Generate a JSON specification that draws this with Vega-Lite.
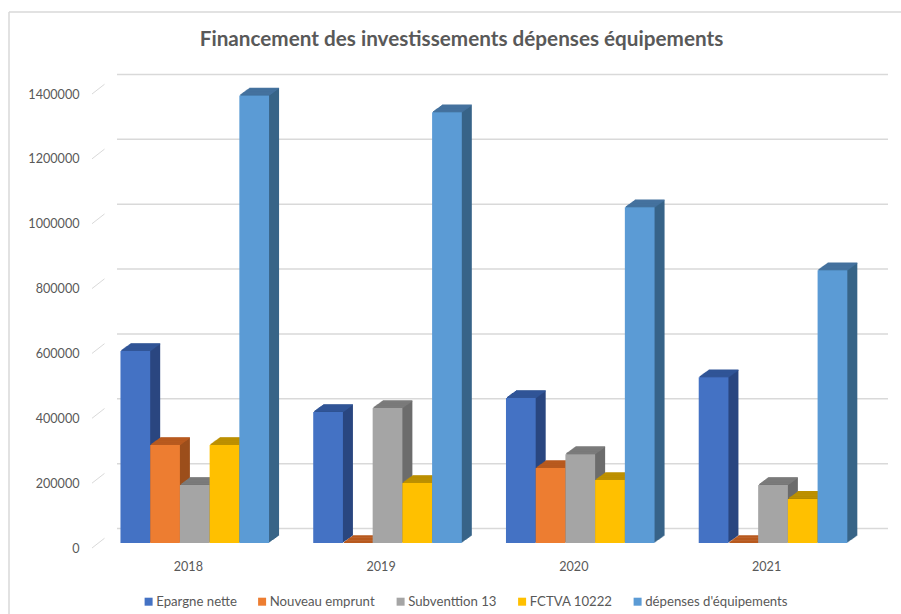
{"$schema":"https://vega.github.io/schema/vega-lite/v6.json","width":771,"height":454,"autosize":"none","padding":{"left":92,"top":94,"right":38,"bottom":66},"background":"white","title":{"text":"Financement des investissements dépenses équipements","font":"Lato","fontSize":20.7,"fontWeight":"bold","color":"#595959","offset":-39,"dx":-16,"anchor":"middle"},"config":{"view":{"stroke":null}},"datasets":{"bars":[{"a":"2018","s":"Epargne nette","v":592000},{"a":"2018","s":"Nouveau emprunt","v":302000},{"a":"2018","s":"Subventtion 13","v":179000},{"a":"2018","s":"FCTVA 10222","v":302000},{"a":"2018","s":"dépenses d'équipements","v":1380000},{"a":"2019","s":"Epargne nette","v":404000},{"a":"2019","s":"Nouveau emprunt","v":0},{"a":"2019","s":"Subventtion 13","v":416000},{"a":"2019","s":"FCTVA 10222","v":185000},{"a":"2019","s":"dépenses d'équipements","v":1328000},{"a":"2020","s":"Epargne nette","v":447000},{"a":"2020","s":"Nouveau emprunt","v":231000},{"a":"2020","s":"Subventtion 13","v":274000},{"a":"2020","s":"FCTVA 10222","v":194000},{"a":"2020","s":"dépenses d'équipements","v":1035000},{"a":"2021","s":"Epargne nette","v":511000},{"a":"2021","s":"Nouveau emprunt","v":0},{"a":"2021","s":"Subventtion 13","v":179000},{"a":"2021","s":"FCTVA 10222","v":136000},{"a":"2021","s":"dépenses d'équipements","v":841000}],"grid":[{"v":0},{"v":200000},{"v":400000},{"v":600000},{"v":800000},{"v":1000000},{"v":1200000},{"v":1400000}]},"resolve":{"scale":{"x":"independent"},"axis":{"x":"independent"}},"layer":[{"data":{"values":[{}]},"mark":{"type":"rule","color":"#d9d9d9","strokeWidth":1.5,"xOffset":-83,"x2Offset":38,"yOffset":-82},"encoding":{"x":{"datum":0,"scale":{"domain":[0,1]},"axis":null},"x2":{"datum":1},"y":{"datum":1400000,"scale":{"domain":[0,1400000]}}}},{"data":{"values":[{}]},"mark":{"type":"rule","color":"#d9d9d9","strokeWidth":1.5,"xOffset":-83,"yOffset":-82,"y2Offset":66},"encoding":{"x":{"datum":0,"scale":{"domain":[0,1]},"axis":null},"y":{"datum":1400000},"y2":{"datum":0}}},{"data":{"name":"grid"},"mark":{"type":"point","shape":"M0 0L1 -0.78","size":625,"stroke":"#d9d9d9","strokeWidth":1,"fill":null,"opacity":1},"encoding":{"x":{"datum":0,"scale":{"domain":[0,1]},"axis":null},"y":{"field":"v","type":"quantitative","axis":{"values":[0,200000,400000,600000,800000,1000000,1200000,1400000],"format":"d","title":null,"domain":false,"ticks":false,"grid":false,"labelPadding":13,"labelFont":"Lato","labelFontSize":12.6,"labelColor":"#595959"}}}},{"data":{"name":"grid"},"mark":{"type":"rule","color":"#d9d9d9","strokeWidth":1.5,"xOffset":25,"x2Offset":25,"yOffset":-19.5},"encoding":{"x":{"datum":0,"scale":{"domain":[0,1]},"axis":null},"x2":{"datum":1},"y":{"field":"v","type":"quantitative"}}},{"data":{"name":"bars"},"resolve":{"scale":{"xOffset":"independent"}},"encoding":{"x":{"field":"a","type":"nominal","scale":{"paddingInner":0.229,"paddingOuter":0.1145},"axis":{"title":null,"labelAngle":0,"domain":false,"ticks":false,"labelPadding":12,"labelFont":"Lato","labelFontSize":12.6,"labelColor":"#595959"}},"y":{"field":"v","type":"quantitative","stack":null}},"layer":[{"resolve":{"scale":{"xOffset":"independent"}},"encoding":{"y2":{"datum":0},"fill":{"field":"s","type":"nominal","legend":null,"scale":{"domain":["dépenses d'équipements","FCTVA 10222","Subventtion 13","Nouveau emprunt","Epargne nette"],"range":["#386488","#9C7A00","#6C6C6C","#9C4F1C","#2A4780"]}}},"layer":[{"mark":{"type":"bar","yOffset":-12.2,"y2Offset":-12.2},"encoding":{"xOffset":{"field":"s","sort":null,"scale":{"range":[16.4,165],"paddingInner":0,"paddingOuter":0}}}},{"mark":{"type":"bar","yOffset":-11.48,"y2Offset":-11.48},"encoding":{"xOffset":{"field":"s","sort":null,"scale":{"range":[15.4,164],"paddingInner":0,"paddingOuter":0}}}},{"mark":{"type":"bar","yOffset":-10.76,"y2Offset":-10.76},"encoding":{"xOffset":{"field":"s","sort":null,"scale":{"range":[14.4,163],"paddingInner":0,"paddingOuter":0}}}},{"mark":{"type":"bar","yOffset":-10.04,"y2Offset":-10.04},"encoding":{"xOffset":{"field":"s","sort":null,"scale":{"range":[13.4,162],"paddingInner":0,"paddingOuter":0}}}},{"mark":{"type":"bar","yOffset":-9.32,"y2Offset":-9.32},"encoding":{"xOffset":{"field":"s","sort":null,"scale":{"range":[12.4,161],"paddingInner":0,"paddingOuter":0}}}},{"mark":{"type":"bar","yOffset":-8.6,"y2Offset":-8.6},"encoding":{"xOffset":{"field":"s","sort":null,"scale":{"range":[11.4,160],"paddingInner":0,"paddingOuter":0}}}},{"mark":{"type":"bar","yOffset":-7.88,"y2Offset":-7.88},"encoding":{"xOffset":{"field":"s","sort":null,"scale":{"range":[10.4,159],"paddingInner":0,"paddingOuter":0}}}},{"mark":{"type":"bar","yOffset":-7.16,"y2Offset":-7.16},"encoding":{"xOffset":{"field":"s","sort":null,"scale":{"range":[9.4,158],"paddingInner":0,"paddingOuter":0}}}},{"mark":{"type":"bar","yOffset":-6.44,"y2Offset":-6.44},"encoding":{"xOffset":{"field":"s","sort":null,"scale":{"range":[8.4,157],"paddingInner":0,"paddingOuter":0}}}},{"mark":{"type":"bar","yOffset":-5.72,"y2Offset":-5.72},"encoding":{"xOffset":{"field":"s","sort":null,"scale":{"range":[7.4,156],"paddingInner":0,"paddingOuter":0}}}}]},{"resolve":{"scale":{"xOffset":"independent"}},"encoding":{"y2":{"field":"v"},"stroke":{"field":"s","type":"nominal","legend":null,"scale":{"domain":["dépenses d'équipements","FCTVA 10222","Subventtion 13","Nouveau emprunt","Epargne nette"],"range":["#44729E","#BD9000","#7B7B7B","#B85A1F","#315597"]}}},"layer":[{"mark":{"type":"bar","fill":"transparent","strokeWidth":1.2,"yOffset":-12.2,"y2Offset":-12.2},"encoding":{"xOffset":{"field":"s","sort":null,"scale":{"range":[16.4,165],"paddingInner":0,"paddingOuter":0}}}},{"mark":{"type":"bar","fill":"transparent","strokeWidth":1.2,"yOffset":-11.48,"y2Offset":-11.48},"encoding":{"xOffset":{"field":"s","sort":null,"scale":{"range":[15.4,164],"paddingInner":0,"paddingOuter":0}}}},{"mark":{"type":"bar","fill":"transparent","strokeWidth":1.2,"yOffset":-10.76,"y2Offset":-10.76},"encoding":{"xOffset":{"field":"s","sort":null,"scale":{"range":[14.4,163],"paddingInner":0,"paddingOuter":0}}}},{"mark":{"type":"bar","fill":"transparent","strokeWidth":1.2,"yOffset":-10.04,"y2Offset":-10.04},"encoding":{"xOffset":{"field":"s","sort":null,"scale":{"range":[13.4,162],"paddingInner":0,"paddingOuter":0}}}},{"mark":{"type":"bar","fill":"transparent","strokeWidth":1.2,"yOffset":-9.32,"y2Offset":-9.32},"encoding":{"xOffset":{"field":"s","sort":null,"scale":{"range":[12.4,161],"paddingInner":0,"paddingOuter":0}}}},{"mark":{"type":"bar","fill":"transparent","strokeWidth":1.2,"yOffset":-8.6,"y2Offset":-8.6},"encoding":{"xOffset":{"field":"s","sort":null,"scale":{"range":[11.4,160],"paddingInner":0,"paddingOuter":0}}}},{"mark":{"type":"bar","fill":"transparent","strokeWidth":1.2,"yOffset":-7.88,"y2Offset":-7.88},"encoding":{"xOffset":{"field":"s","sort":null,"scale":{"range":[10.4,159],"paddingInner":0,"paddingOuter":0}}}},{"mark":{"type":"bar","fill":"transparent","strokeWidth":1.2,"yOffset":-7.16,"y2Offset":-7.16},"encoding":{"xOffset":{"field":"s","sort":null,"scale":{"range":[9.4,158],"paddingInner":0,"paddingOuter":0}}}},{"mark":{"type":"bar","fill":"transparent","strokeWidth":1.2,"yOffset":-6.44,"y2Offset":-6.44},"encoding":{"xOffset":{"field":"s","sort":null,"scale":{"range":[8.4,157],"paddingInner":0,"paddingOuter":0}}}},{"mark":{"type":"bar","fill":"transparent","strokeWidth":1.2,"yOffset":-5.72,"y2Offset":-5.72},"encoding":{"xOffset":{"field":"s","sort":null,"scale":{"range":[7.4,156],"paddingInner":0,"paddingOuter":0}}}}]},{"mark":{"type":"bar","yOffset":-5,"y2Offset":-5},"encoding":{"y2":{"datum":0},"xOffset":{"field":"s","sort":null,"scale":{"range":[6.4,155],"paddingInner":0,"paddingOuter":0}},"color":{"field":"s","type":"nominal","scale":{"domain":["Epargne nette","Nouveau emprunt","Subventtion 13","FCTVA 10222","dépenses d'équipements"],"range":["#4472C4","#ED7D31","#A5A5A5","#FFC000","#5B9BD5"]},"legend":{"title":null,"orient":"none","legendX":50,"legendY":501,"direction":"horizontal","columns":5,"columnPadding":18.5,"symbolType":"square","symbolSize":64,"labelFont":"Lato","labelFontSize":13.2,"labelColor":"#595959","labelOffset":1,"padding":0}}}}]}]}
